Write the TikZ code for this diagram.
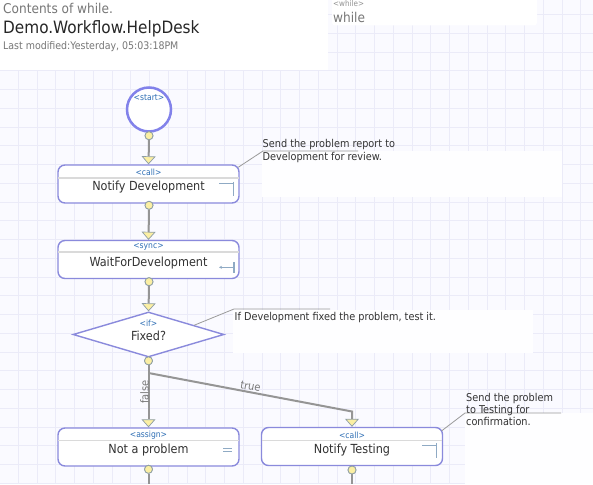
\documentclass[tikz,border=0pt]{standalone}
\usepackage{fontspec}
\setmainfont{DejaVu Sans Condensed}
\usetikzlibrary{arrows.meta,shapes.geometric,calc}
\definecolor{gridc}{HTML}{EBEBF8}
\definecolor{bgc}{HTML}{FAFAFF}
\definecolor{cbgc}{HTML}{FEFEFF}
\definecolor{boxc}{HTML}{8A8ADC}
\definecolor{circc}{HTML}{8282EA}
\definecolor{stc}{HTML}{2F6FB5}
\definecolor{txt}{HTML}{333333}
\definecolor{dotc}{HTML}{FBEFA3}
\definecolor{dotb}{HTML}{8E9EA5}
\definecolor{conc}{HTML}{959595}
\definecolor{iconc}{HTML}{8FAAC4}
\definecolor{sepc}{HTML}{DADADA}
\definecolor{hdrc}{HTML}{777777}
\definecolor{leadc}{HTML}{9A9A9A}
\tikzset{
  actbox/.style={draw=boxc,line width=1.4pt,fill=white,rounded corners=7pt,minimum width=181pt,minimum height=38pt,inner sep=0pt},
  stereo/.style={text=stc,font=\fontsize{8.5}{9}\selectfont,inner sep=0pt},
  maintext/.style={text=txt,font=\fontsize{12.5}{14}\selectfont,inner sep=0pt},
  cmt/.style={text=txt,font=\fontsize{10.8}{13}\selectfont,inner sep=0pt,align=left,anchor=base west},
  ydot/.style={circle,fill=dotc,draw=dotb,line width=0.8pt,minimum size=8pt,inner sep=0pt},
  conn/.style={draw=conc,line width=2pt,-{Triangle[width=14pt,length=8pt,fill=dotc,color=dotb,line width=0.7pt]}},
  plainconn/.style={draw=conc,line width=2pt},
  sepline/.style={draw=sepc,line width=1.2pt},
  leader/.style={draw=leadc,line width=0.8pt},
  icon/.style={draw=iconc,line width=1pt},
  brlabel/.style={text=hdrc,font=\fontsize{11}{12}\selectfont,inner sep=0pt}
}
\begin{document}
\begin{tikzpicture}[x=1pt,y=-1pt]
\useasboundingbox (0,0) rectangle (593,484);
\fill[bgc] (0,0) rectangle (593,484);
% grid
\foreach \i in {0,...,31} \draw[gridc,line width=0.8pt] ({18.3+18.75*\i},0) -- ({18.3+18.75*\i},484);
\foreach \j in {0,...,26} \draw[gridc,line width=0.8pt] (0,{14.5+18.75*\j}) -- (593,{14.5+18.75*\j});
% header backgrounds
\fill[white] (0,0) rectangle (328,70);
\fill[white,rounded corners=3pt] (332,-5) rectangle (537,25.5);
% comment backgrounds
\fill[cbgc] (262,151) rectangle (562,197);
\fill[cbgc] (233,310) rectangle (533,353);
\fill[cbgc] (465,413) rectangle (593,484);
% header
\node[anchor=base west,inner sep=0pt,text=hdrc,font=\fontsize{13.5}{15}\selectfont] (h1) at (3,14) {Contents of while.};
\node[anchor=base west,inner sep=0pt,text=black!85,font=\fontsize{17}{19}\selectfont] (h2) at (3,33.5) {Demo.Workflow.HelpDesk};
\node[anchor=base west,inner sep=0pt,text=hdrc,font=\fontsize{10.5}{12}\selectfont] (h3) at (3,50) {Last modified:Yesterday, 05:03:18PM};
\node[anchor=base west,inner sep=0pt,text=hdrc!80,font=\fontsize{8}{9}\selectfont] (w1) at (333,7) {<while>};
\node[anchor=base west,inner sep=0pt,text=hdrc,font=\fontsize{13.5}{15}\selectfont] (w2) at (333,22.5) {while};
% start
\node[circle,draw=circc,line width=2.5pt,fill=white,minimum size=44pt,inner sep=0pt] (start) at (149,109.5) {};
\node[stereo] (startlbl) at (149,97.7) {<start>};
% boxes
\node[actbox] (nd) at (148.5,184) {};
\node[actbox] (wd) at (148.5,259.5) {};
\node[diamond,draw=boxc,line width=1.4pt,fill=white,minimum width=151pt,minimum height=45pt,inner sep=0pt] (fx) at (148.5,334.5) {};
\node[actbox] (np) at (148.5,447) {};
\node[actbox] (nt) at (352,446.5) {};
% separators
\draw[sepline] ($(nd.west)+(1,-6)$) -- ($(nd.east)+(-1,-6)$);
\draw[sepline] ($(wd.west)+(1,-7.5)$) -- ($(wd.east)+(-1,-7.5)$);
\draw[sepline] ($(np.west)+(1,-6.3)$) -- ($(np.east)+(-1,-6.3)$);
\draw[sepline] ($(nt.west)+(1,-5.8)$) -- ($(nt.east)+(-1,-5.8)$);
% texts
\node[stereo] (ndst) at (148.5,172.8) {<call>};
\node[maintext] (ndtx) at (148.5,187.5) {Notify Development};
\node[stereo] (wdst) at (148.5,247.3) {<sync>};
\node[maintext] (wdtx) at (148.5,263.3) {WaitForDevelopment};
\node[stereo] (fxst) at (148.5,323.5) {<if>};
\node[maintext] (fxtx) at (148.5,335.5) {Fixed?};
\node[stereo] (npst) at (148.5,435) {<assign>};
\node[maintext] (nptx) at (148.5,450.5) {Not a problem};
\node[stereo] (ntst) at (352,435) {<call>};
\node[maintext] (nttx) at (352,450.5) {Notify Testing};
% icons
\draw[icon] (219,183.7) -- (233,183.7);
\draw[icon,line width=1.3pt] (233.5,181.7) -- (233.5,195.7);
\draw[icon,line width=1.3pt] (234,262) -- (234,272.5);
\draw[icon,-{Stealth[length=3pt,width=3pt]}] (233.5,267.3) -- (219,267.3);
\draw[icon] (422,445.7) -- (436,445.7);
\draw[icon,line width=1.3pt] (436.5,443) -- (436.5,458);
\draw[icon,line width=1.2pt] (223,448.3) -- (232,448.3);
\draw[icon,line width=1.2pt] (223,451.6) -- (232,451.6);
% connector dots
\node[ydot] (d0) at (149,135.7) {};
\node[ydot] (d1) at (149,205.3) {};
\node[ydot] (d2) at (149,281.7) {};
\node[ydot] (d3) at (148.5,360.8) {};
\coordinate (br) at (148.5,373);
\coordinate (tb) at (352,411.5);
\coordinate (endl) at (148.5,484);
\coordinate (endr) at (352,484);
% connectors
\draw[conn] (d0.south) -- (nd.north);
\draw[conn] (d1.south) -- (wd.north);
\draw[conn] (d2.south) -- (fx.north);
\draw[conn] (d3.south) -- (np.north);
\draw[conn] (br) -- (tb) -- (nt.north);
\node[ydot] (d4) at (148.5,469.3) {};
\node[ydot] (d5) at (352,470) {};
\draw[plainconn] (d4.south) -- (endl);
\draw[plainconn] (d5.south) -- (endr);
\node[ydot] at (d0) {};
\node[ydot] at (d1) {};
\node[ydot] at (d2) {};
\node[ydot] at (d3) {};
\node[ydot] at (d4) {};
\node[ydot] at (d5) {};
% branch labels
\node[brlabel,rotate=90] (lfalse) at (144.5,392) {false};
\node[brlabel,rotate=-10.8] (ltrue) at (250.5,386.5) {true};
% comments
\coordinate (c1a) at (263,151);
\coordinate (c1b) at (358,151);
\draw[leader] ($(nd.north east)+(-1.5,3)$) -- (c1a) -- (c1b);
\node[cmt] (cm1) at (262.5,160.7) {Send the problem report to\\Development for review.};
\coordinate (c2a) at (234,309);
\coordinate (c2b) at (330,309);
\draw[leader] ($(fx.east)!0.4!(fx.north)$) -- (c2a) -- (c2b);
\node[cmt] (cm2) at (234.5,320.7) {If Development fixed the problem, test it.};
\coordinate (c3a) at (465,413);
\coordinate (c3b) at (561,413);
\draw[leader] ($(nt.north east)+(-1.5,4)$) -- (c3a) -- (c3b);
\node[cmt,font=\fontsize{10.8}{11.8}\selectfont] (cm3) at (466,425) {Send the problem\\to Testing for\\confirmation.};
\end{tikzpicture}
\end{document}
